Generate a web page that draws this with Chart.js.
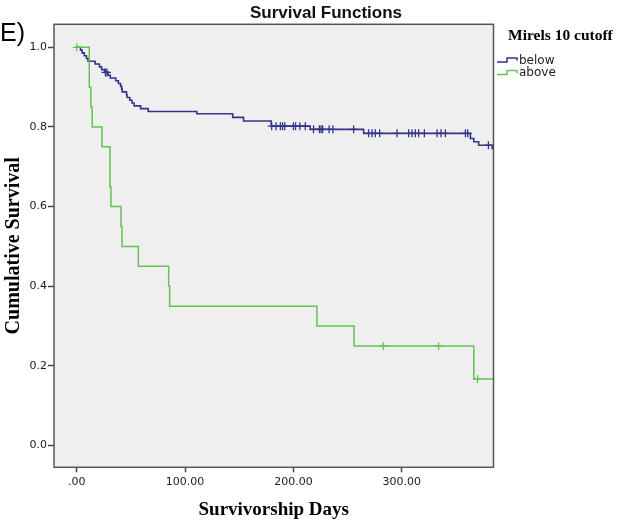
<!DOCTYPE html>
<html>
<head>
<meta charset="utf-8">
<script src="https://cdn.jsdelivr.net/npm/chart.js"></script>
<style>
  body { margin: 0; background: #fff; }
  #wrap { position: relative; width: 620px; height: 522px; }
  #km { position: absolute; left: 0; top: 0; }
  .lbl { position: absolute; white-space: nowrap; color: #000; }
  #panel { left: 0; top: 20px; font: 25px "Liberation Sans", Arial, sans-serif; line-height: 25px; }
  #title { left: 326px; top: 3px; transform: translateX(-50%); font: bold 17px "Liberation Sans", Arial, sans-serif; line-height: 20px; color: #111; }
  #legTitle { left: 508px; top: 26px; font: bold 15.5px "Liberation Serif", "Times New Roman", serif; line-height: 18px; }
  .legItem { left: 519px; font: 12px "DejaVu Sans", sans-serif; line-height: 14px; color: #222; }
  #legIcons { position: absolute; left: 0; top: 0; }
</style>
</head>
<body>
<div id="wrap">
  <canvas id="km" width="620" height="522"></canvas>
  <div class="lbl" id="panel">E)</div>
  <div class="lbl" id="title">Survival Functions</div>
  <div class="lbl" id="legTitle">Mirels 10 cutoff</div>
  <svg id="legIcons" width="620" height="100">
    <polyline points="497,62 507,62 507,58 517,58 517,60.5" fill="none" stroke="#34348a" stroke-width="1.5"/>
    <polyline points="497,74.5 507,74.5 507,70.5 517,70.5 517,73" fill="none" stroke="#63c353" stroke-width="1.5"/>
  </svg>
  <div class="lbl legItem" style="top:53px">below</div>
  <div class="lbl legItem" style="top:65px">above</div>
</div>

<script>
    // tick positions
    const xTicks = [0, 100, 200, 300];
    const yTicks = [0, 0.2, 0.4, 0.6, 0.8, 1.0];

    // Mirels < 10 (below): event times and survival after each step
    const belowTimes = [0, 3.5, 5, 7, 9, 10.5, 17, 21, 23, 26, 29, 31, 36, 38.5, 40.5, 41.5, 42, 46, 46.5, 49, 51, 53, 59, 66,
        110.8, 144, 154, 179.5, 215.5, 264.8, 363.4, 366.5, 371, 383.5, 390];
    const belowSurv = [1, 0.993, 0.986, 0.979, 0.972, 0.965, 0.958, 0.951, 0.944, 0.937, 0.930, 0.923, 0.916, 0.909, 0.902, 0.895, 0.888, 0.881, 0.874, 0.867, 0.860, 0.853, 0.846, 0.839,
        0.833, 0.824, 0.815, 0.802, 0.794, 0.784, 0.771, 0.763, 0.754, 0.746, 0.746];
    const belowCensored = [26.5, 28, 180, 184, 188, 190, 192, 200, 202, 206, 211, 218.6, 224, 225.5, 227, 233, 236.5, 255.6,
        269.4, 272.6, 275.6, 279.6, 295.6, 306.4, 309.5, 312.6, 315.6, 320.9, 332.6, 336.3, 340.3, 358.8, 360.9, 380];

    // Mirels >= 10 (above)
    const aboveTimes = [0, 11.6, 13.1, 14.3, 23.3, 30.7, 31.6, 40.9, 41.8, 56.9, 84.9, 85.8, 221.7, 256, 366.5, 390];
    const aboveSurv = [1, 0.9, 0.85, 0.8, 0.75, 0.65, 0.6, 0.55, 0.5, 0.45, 0.4, 0.35, 0.3, 0.25, 0.167, 0.167];
    const aboveCensored = [0, 283, 334, 370];

    const blue = '#34348a';
    const green = '#63c353';

    // value of the step function at time t
    function survAt(times, surv, t) {
        let s = surv[0];
        for (let i = 0; i < times.length; i++) {
            if (times[i] <= t) s = surv[i];
        }
        return s;
    }

    const toPts = (times, surv) => times.map((t, i) => ({x: t, y: surv[i]}));
    const censorPts = (cens, times, surv) => cens.map(t => ({x: t, y: survAt(times, surv, t)}));

    const plotFrame = {
        id: 'plotFrame',
        beforeDraw(chart) {
            const a = chart.chartArea, ctx = chart.ctx;
            ctx.save();
            ctx.fillStyle = '#efefef';
            ctx.fillRect(a.left, a.top, a.right - a.left, a.bottom - a.top);
            ctx.restore();
        },
        afterDraw(chart) {
            const a = chart.chartArea, ctx = chart.ctx;
            ctx.save();
            ctx.strokeStyle = '#555';
            ctx.lineWidth = 1.5;
            ctx.strokeRect(a.left, a.top, a.right - a.left, a.bottom - a.top);
            ctx.restore();
        }
    };

    Chart.defaults.font.family = '"DejaVu Sans", sans-serif';

    new Chart(document.getElementById('km'), {
        type: 'line',
        data: {
            datasets: [
                {
                    label: 'above',
                    data: toPts(aboveTimes, aboveSurv),
                    borderColor: green,
                    borderWidth: 1.5,
                    stepped: 'before',
                    pointRadius: 0
                },
                {
                    label: 'below',
                    data: toPts(belowTimes, belowSurv),
                    borderColor: blue,
                    borderWidth: 1.6,
                    stepped: 'before',
                    pointRadius: 0
                },
                {
                    label: 'above censored',
                    data: censorPts(aboveCensored, aboveTimes, aboveSurv),
                    showLine: false,
                    pointStyle: 'cross',
                    pointRadius: 4,
                    borderColor: green,
                    borderWidth: 1.2
                },
                {
                    label: 'below censored',
                    data: censorPts(belowCensored, belowTimes, belowSurv),
                    showLine: false,
                    pointStyle: 'cross',
                    pointRadius: 4,
                    borderColor: blue,
                    borderWidth: 1.3
                }
            ]
        },
        options: {
            responsive: false,
            animation: false,
            layout: { padding: { top: 24.3, right: 126.5, bottom: 0, left: 0 } },
            plugins: {
                legend: { display: false },
                tooltip: { enabled: false }
            },
            scales: {
                x: {
                    type: 'linear',
                    min: -20.95,
                    max: 384.7,
                    afterFit: s => { s.height = 54.7; },
                    afterBuildTicks: s => { s.ticks = xTicks.map(v => ({value: v})); },
                    grid: { drawOnChartArea: false, drawTicks: true, tickLength: 5, tickColor: '#444', tickWidth: 1.5 },
                    border: { display: false },
                    ticks: {
                        padding: 3,
                        color: '#1a1a1a',
                        font: { size: 11 },
                        callback: v => v === 0 ? '.00' : v.toFixed(2)
                    },
                    title: {
                        display: true,
                        text: 'Survivorship Days',
                        color: '#000',
                        font: { family: '"Liberation Serif", "Times New Roman", serif', size: 19, weight: 'bold' },
                        padding: { top: 0, bottom: 1 }
                    }
                },
                y: {
                    min: -0.0547,
                    max: 1.0578,
                    afterFit: s => { s.width = 54; },
                    afterBuildTicks: s => { s.ticks = yTicks.map(v => ({value: v})); },
                    grid: { drawOnChartArea: false, drawTicks: true, tickLength: 6, tickColor: '#444', tickWidth: 1.5 },
                    border: { display: false },
                    ticks: {
                        padding: 1,
                        color: '#1a1a1a',
                        font: { size: 11 },
                        callback: v => v.toFixed(1)
                    },
                    title: {
                        display: true,
                        text: 'Cumulative Survival',
                        color: '#000',
                        font: { family: '"Liberation Serif", "Times New Roman", serif', size: 20, weight: 'bold' },
                        padding: { top: 2, bottom: 0 }
                    }
                }
            }
        },
        plugins: [plotFrame]
    });
</script>
</body>
</html>
